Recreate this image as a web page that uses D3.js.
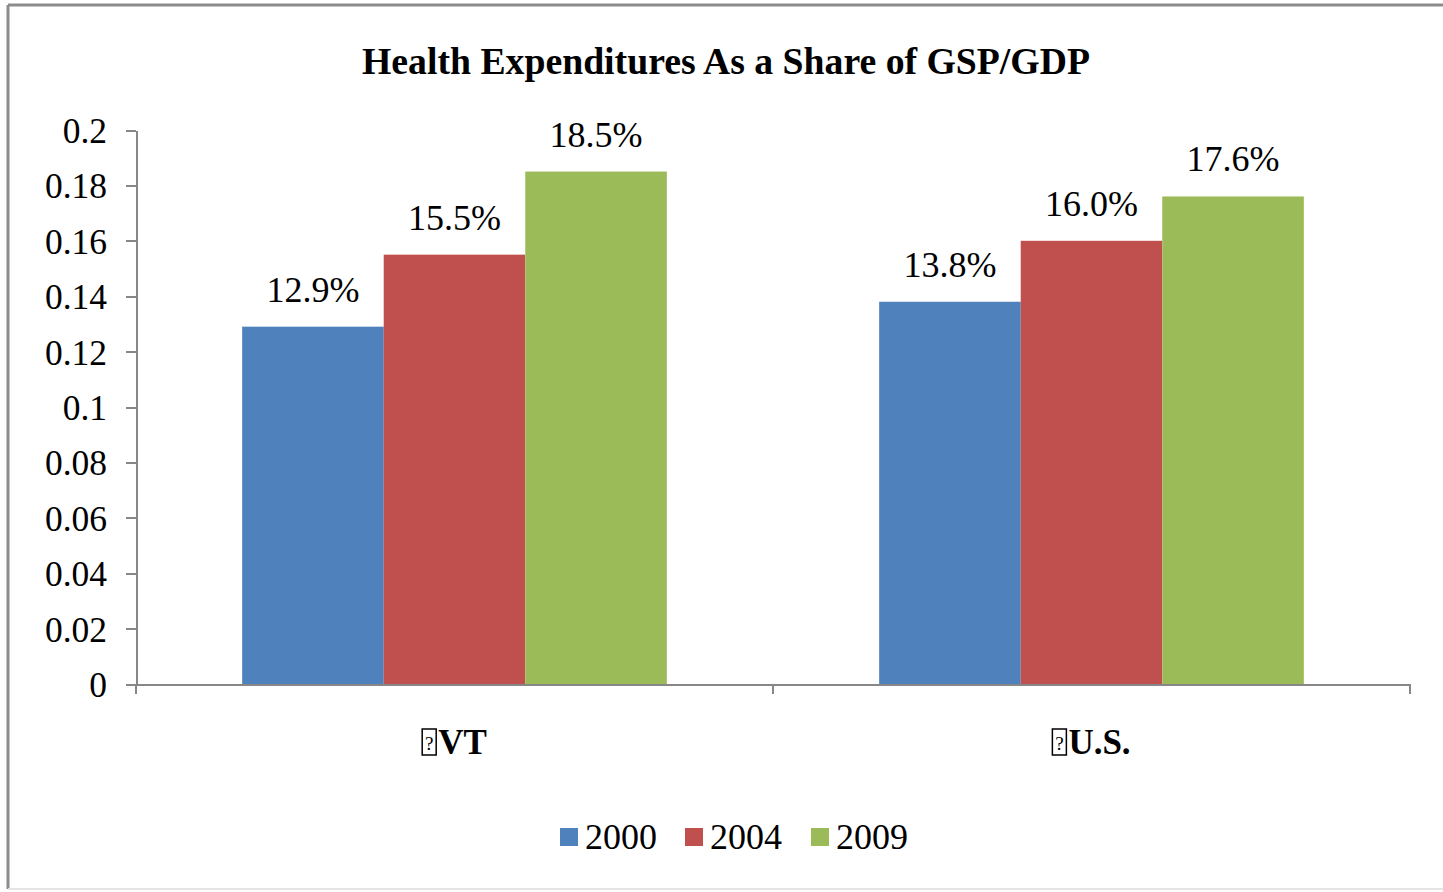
<!DOCTYPE html>
<html>
<head>
<meta charset="utf-8">
<script src="https://cdn.jsdelivr.net/npm/d3@7"></script>
<style>
  body { margin: 0; background: #fff; }
  svg text { font-family: "Liberation Serif", "DejaVu Serif", serif; fill: #000; }
  .axis path, .axis line { stroke: #878787; stroke-width: 2px; shape-rendering: crispEdges; }
</style>
</head>
<body>
<svg id="svg" width="1443" height="892"></svg>
<script>
var categories = ["VT", "U.S."];
var seriesNames = ["2000", "2004", "2009"];
var seriesColors = ["#4f81bd", "#c0504d", "#9bbb59"];
var values2000 = [0.129, 0.138];
var values2004 = [0.155, 0.160];
var values2009 = [0.185, 0.176];
var yTicks = [0, 0.02, 0.04, 0.06, 0.08, 0.1, 0.12, 0.14, 0.16, 0.18, 0.2];
var chartTitle = "Health Expenditures As a Share of GSP/GDP";

var seriesValues = [values2000, values2004, values2009];

var svg = d3.select("#svg");

// outer frame (right edge is off the picture, bottom is faint)
svg.append("line").attr("x1", 8).attr("y1", 5).attr("x2", 1443).attr("y2", 5)
  .attr("stroke", "#8c8c8c").attr("stroke-width", 3);
svg.append("line").attr("x1", 8).attr("y1", 5).attr("x2", 8).attr("y2", 889)
  .attr("stroke", "#8c8c8c").attr("stroke-width", 3);
svg.append("line").attr("x1", 8).attr("y1", 889).attr("x2", 1443).attr("y2", 889)
  .attr("stroke", "#e4e4e4").attr("stroke-width", 2);

var margin = {left: 136, right: 33, top: 130, bottom: 208};
var width = 1443 - margin.left - margin.right;
var height = 892 - margin.top - margin.bottom;

var g = svg.append("g")
  .attr("transform", "translate(" + margin.left + "," + margin.top + ")");

var x0 = d3.scaleBand().domain(categories).range([0, width]).padding(0);
var x1 = d3.scaleBand().domain(seriesNames).range([0, x0.bandwidth()])
  .paddingInner(0).paddingOuter(0.75);
var y = d3.scaleLinear().domain([0, 0.2]).range([height, 0]);

// y axis
var yAxis = g.append("g").attr("class", "axis")
  .call(d3.axisLeft(y).tickValues(yTicks).tickSize(10).tickSizeOuter(0)
    .tickFormat(function (d) { return String(+d.toFixed(2)); }));
yAxis.selectAll("text")
  .attr("x", -29)
  .attr("dy", "0.35em")
  .style("font-size", "35.5px");

// bars
var rows = categories.map(function (c, i) {
  return seriesNames.map(function (s, j) {
    return {cat: c, series: s, value: seriesValues[j][i], color: seriesColors[j]};
  });
});

var groups = g.selectAll(".grp")
  .data(rows)
  .enter().append("g")
  .attr("class", "grp")
  .attr("transform", function (d, i) { return "translate(" + x0(categories[i]) + ",0)"; });

groups.selectAll("rect")
  .data(function (d) { return d; })
  .enter().append("rect")
  .attr("x", function (d) { return x1(d.series); })
  .attr("y", function (d) { return y(d.value); })
  .attr("width", x1.bandwidth())
  .attr("height", function (d) { return height - y(d.value); })
  .attr("fill", function (d) { return d.color; });

groups.selectAll("text.lbl")
  .data(function (d) { return d; })
  .enter().append("text")
  .attr("class", "lbl")
  .attr("x", function (d) { return x1(d.series) + x1.bandwidth() / 2; })
  .attr("y", function (d) { return y(d.value) - 25; })
  .attr("text-anchor", "middle")
  .style("font-size", "36px")
  .text(function (d) { return (d.value * 100).toFixed(1) + "%"; });

// x axis
var xAxis = g.append("g").attr("class", "axis")
  .attr("transform", "translate(0," + height + ")")
  .call(d3.axisBottom(x0).tickSize(0).tickSizeOuter(0).tickFormat(""));
xAxis.selectAll(".tick").remove();
xAxis.selectAll(".sep")
  .data([0, x0.step(), width])
  .enter().append("line")
  .attr("class", "sep")
  .attr("x1", function (d) { return d; }).attr("x2", function (d) { return d; })
  .attr("y1", 0).attr("y2", 10);

// category labels with missing-glyph box in front
categories.forEach(function (c) {
  var cx = x0(c) + x0.bandwidth() / 2;
  var lab = g.append("g").attr("transform", "translate(" + cx + "," + (height + 70) + ")");
  var t = lab.append("text")
    .attr("text-anchor", "start")
    .style("font-size", "35px")
    .style("font-weight", "bold")
    .text(c);
  var w = t.node().getComputedTextLength();
  var total = w + 16;
  var bx = -total / 2;
  t.attr("x", bx + 16);
  lab.append("rect")
    .attr("x", bx).attr("y", -25)
    .attr("width", 14).attr("height", 26)
    .attr("fill", "none").attr("stroke", "#000").attr("stroke-width", 1.5);
  lab.append("text")
    .attr("x", bx + 7).attr("y", -4)
    .attr("text-anchor", "middle")
    .style("font-size", "19px")
    .text("?");
});

// title
var title = svg.append("text")
  .attr("x", 726).attr("y", 74)
  .attr("text-anchor", "middle")
  .style("font-size", "34px")
  .style("font-weight", "bold")
  .text(chartTitle);
var tw = title.node().getComputedTextLength();
title.style("font-size", (34 * 728 / tw) + "px");

// legend
var legendX = [560, 685, 811];
var legend = svg.selectAll(".leg")
  .data(seriesNames)
  .enter().append("g")
  .attr("class", "leg")
  .attr("transform", function (d, i) { return "translate(" + legendX[i] + ",828)"; });
legend.append("rect")
  .attr("width", 18).attr("height", 18)
  .attr("fill", function (d, i) { return seriesColors[i]; });
legend.append("text")
  .attr("x", 25).attr("y", 21)
  .style("font-size", "36px")
  .text(function (d) { return d; });
</script>
</body>
</html>
